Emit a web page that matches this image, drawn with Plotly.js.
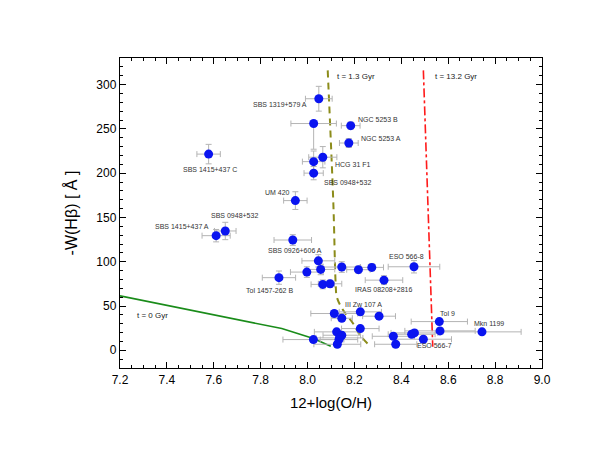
<!DOCTYPE html>
<html>
<head>
<meta charset="utf-8">
<script src="https://cdn.plot.ly/plotly-3.0.1.min.js"></script>
<style>
  body { margin: 0; background: #fff; }
  #plot { width: 598px; height: 462px; }
</style>
</head>
<body>
<div id="plot"></div>
<script>
// galaxies: oxygen abundance vs equivalent width of H-beta
const ohVals = [8.048, 8.026, 8.184, 8.176, 8.065, 8.026, 8.026, 7.578, 7.948, 7.937,
                8.046, 7.878, 7.997, 8.056, 8.146, 8.217, 8.274, 8.454, 8.326, 8.065,
                8.096, 8.114, 8.146, 8.225, 8.305, 8.225, 8.124, 8.146, 8.136, 8.134,
                8.127, 8.025, 8.366, 8.376, 8.444, 8.456, 8.494, 8.562, 8.565, 8.744,
                7.610, 7.649];
const ewVals = [284, 256, 253.6, 234, 218, 213, 200, 221.5, 169, 124.5,
                101, 82, 88.3, 91.3, 94, 91, 93.6, 94.3, 79.2, 74.4,
                75.1, 41.5, 36.2, 43.4, 38.5, 24.5, 20.8, 17, 14, 12.1,
                6.8, 12.1, 15.8, 6.8, 18.1, 19.6, 12.5, 32.4, 21.9, 20.8,
                129.4, 134.7];
const ohErr = [0.057, 0.097, 0.04, 0.04, 0.06, 0.048, 0.041, 0.05, 0.05, 0.08,
               0.07, 0.071, 0.07, 0.06, 0.08, 0.05, 0.05, 0.11, 0.08, 0.05,
               0.05, 0.1, 0.045, 0.09, 0.07, 0.08, 0.095, 0.08, 0.1, 0.08,
               0.1, 0.13, 0.09, 0.09, 0.1, 0.1, 0.12, 0.12, 0.15, 0.167,
               0.06, 0.046];
const ewErrUp = [14, 0, 4, 5, 12, 12, 7.5, 11, 10, 6,
                 7, 7.5, 6, 6, 6, 4, 4, 7, 5, 5,
                 4, 3, 3, 3, 3, 3, 3, 3, 3, 3,
                 3, 3, 3, 3, 3, 3, 3, 3, 3, 3,
                 7, 9.8];
const ewErrDown = [14, 29, 4, 5, 12, 12, 7.5, 11, 10, 6,
                   7, 7.5, 6, 6, 6, 4, 4, 7, 5, 5,
                   4, 3, 3, 3, 3, 3, 3, 3, 3, 3,
                   3, 3, 3, 3, 3, 3, 3, 3, 3, 3,
                   7, 9.8];

// model tracks
const t0X = [7.2, 7.89, 8.025, 8.099];
const t0Y = [61.5, 24.5, 13.2, 4.5];
const t13X = [8.086, 8.11, 8.12, 8.125, 8.15, 8.195, 8.224, 8.258];
const t13Y = [316, 166, 75, 60, 46, 30, 17, 7];
const t132X = [8.494, 8.515, 8.534];
const t132Y = [316, 164, 4];

// labels
const labelText = ['SBS 1319+579 A', 'SBS 1415+437 C', 'NGC 5253 B', 'NGC 5253 A', 'HCG 31 F1',
                   'SBS 0948+532', 'UM 420', 'SBS 0948+532', 'SBS 1415+437 A', 'SBS 0926+606 A',
                   'Tol 1457-262 B', 'ESO 566-8', 'IRAS 08208+2816', 'III Zw 107 A', 'Tol 9',
                   'Mkn 1199', 'ESO 566-7'];
const labelX = [8.008, 7.582, 8.207, 8.218, 8.107, 8.06, 7.932, 7.69, 7.587, 7.945,
                7.837, 8.424, 8.326, 8.237, 8.595, 8.776, 8.542];
const labelY = [278, 204.5, 261, 239.6, 210, 189.8, 178, 151.7, 139.6, 113.2,
                68, 106.4, 68.7, 51.7, 41.5, 30.2, 4.9];
const labelAnchor = ['right', 'center', 'left', 'left', 'left', 'left', 'right', 'center', 'right', 'center',
                     'center', 'center', 'center', 'center', 'center', 'center', 'center'];

const trackText = ['t = 0 Gyr', 't = 1.3 Gyr', 't = 13.2 Gyr'];
const trackX = [7.264, 8.117, 8.534];
const trackY = [39.6, 309, 309];

const traces = [
  {
    x: t0X, y: t0Y, mode: 'lines', type: 'scatter',
    line: { color: '#1a8c1a', width: 1.6 }, hoverinfo: 'skip'
  },
  {
    x: t13X, y: t13Y, mode: 'lines', type: 'scatter',
    line: { color: '#8c8c1a', width: 2, dash: '7px,5px', shape: 'spline' }, hoverinfo: 'skip'
  },
  {
    x: t132X, y: t132Y, mode: 'lines', type: 'scatter',
    line: { color: '#ff1a1a', width: 1.6, dash: 'dashdot' }, hoverinfo: 'skip'
  },
  {
    x: ohVals, y: ewVals, mode: 'markers', type: 'scatter',
    marker: { color: '#0a14f0', size: 9 },
    error_x: { type: 'data', array: ohErr, color: '#b4b4b4', thickness: 1, width: 3 },
    error_y: { type: 'data', symmetric: false, array: ewErrUp, arrayminus: ewErrDown,
               color: '#b4b4b4', thickness: 1, width: 3 }
  }
];

const annotations = [];
labelText.forEach((t, i) => {
  annotations.push({
    x: labelX[i], y: labelY[i], text: t, showarrow: false, xanchor: labelAnchor[i],
    font: { family: 'Liberation Sans, Arial, sans-serif', size: 7, color: '#333' }
  });
});
trackText.forEach((t, i) => {
  annotations.push({
    x: trackX[i], y: trackY[i], text: t, showarrow: false, xanchor: 'left',
    font: { family: 'Liberation Sans, Arial, sans-serif', size: 8, color: '#222' }
  });
});

const axisCommon = {
  showgrid: false, zeroline: false, showline: true, linecolor: '#000', linewidth: 1.2,
  mirror: 'ticks', ticks: 'inside', ticklen: 6, tickcolor: '#000', tickwidth: 1,
  tickfont: { family: 'Liberation Sans, Arial, sans-serif', size: 12, color: '#000' }
};

const layout = {
  width: 598, height: 462,
  paper_bgcolor: '#fff', plot_bgcolor: '#fff',
  showlegend: false,
  margin: { l: 120, r: 56, t: 58, b: 94 },
  xaxis: Object.assign({}, axisCommon, {
    range: [7.2, 9.0], dtick: 0.2, tickformat: '.1f',
    minor: { dtick: 0.05, ticks: 'inside', ticklen: 3, tickcolor: '#000' },
    title: { text: '12+log(O/H)', standoff: 12,
             font: { family: 'Liberation Sans, Arial, sans-serif', size: 15, color: '#000' } }
  }),
  yaxis: Object.assign({}, axisCommon, {
    range: [-20, 330], dtick: 50,
    minor: { dtick: 10, ticks: 'inside', ticklen: 3, tickcolor: '#000' },
    title: { text: '-W(Hβ) [ Å ]', standoff: 14,
             font: { family: 'Liberation Sans, Arial, sans-serif', size: 16, color: '#000' } }
  }),
  annotations: annotations
};

Plotly.newPlot('plot', traces, layout, { staticPlot: true });
</script>
</body>
</html>
